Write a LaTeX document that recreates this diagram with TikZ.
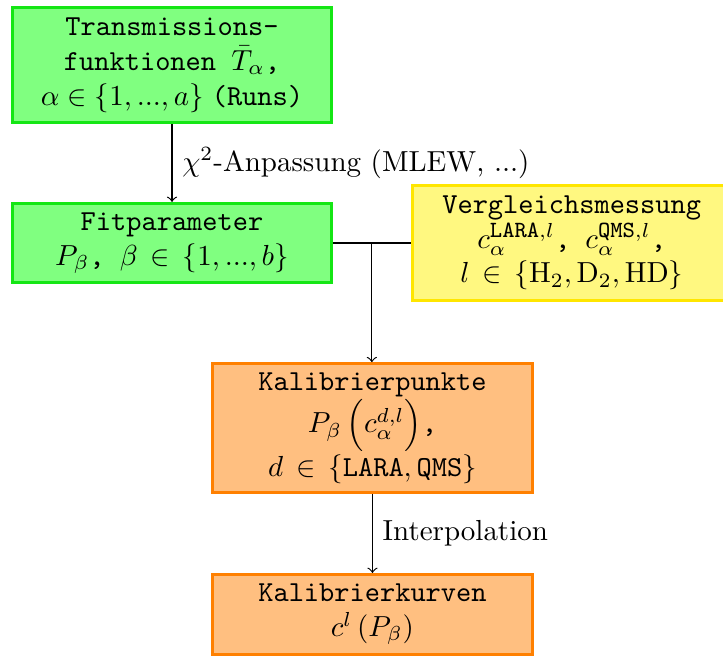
\documentclass[tikz,border=0pt]{standalone}
\usepackage{amsmath}
\definecolor{boxgreen}{RGB}{20,230,20}
\definecolor{boxyellow}{RGB}{255,230,0}
\tikzset{
	block/.style={line width=1pt, minimum width=3.87cm, align=center, font=\ttfamily, inner sep=2pt},
	fitbox/.style={block, draw=boxgreen, fill=green!50},
	refbox/.style={block, draw=boxyellow, fill=yellow!50},
	calbox/.style={block, draw=orange, fill=orange!50},
}
\begin{document}
\begin{tikzpicture}
	\useasboundingbox (0, 0) rectangle (8.764, -7.952);
	
	% input data
	\node[fitbox, minimum height=1.4cm] (trans) at (2.085, -0.788)
		{Transmissions-\\funktionen $\bar{T}_\alpha$,\\$\alpha \in \{1,...,a\}\;$(Runs)};
	\node[fitbox, minimum height=0.96cm] (fit) at (2.085, -2.945)
		{Fitparameter\\$P_\beta$, $\beta\,\in\,\{1,...,b\}$};
	\node[refbox, minimum height=1.4cm] (vergl) at (6.93, -2.945)
		{Vergleichsmessung\\$c_\alpha^{\mbox{\footnotesize\ttfamily LARA},l}$, $c_\alpha^{\mbox{\footnotesize\ttfamily QMS},l}$,\\$l\,\in\,\{\mathrm{H}_2,\mathrm{D}_2,\mathrm{HD}\}$};
	
	% calibration
	\node[calbox, minimum height=1.56cm] (kpunkte) at (4.515, -5.188)
		{Kalibrierpunkte\\$P_\beta\,\Bigl(c_\alpha^{d,l}\Bigr)$,\\$d\,\in\,\{\texttt{LARA},\texttt{QMS}\}$};
	\node[calbox, minimum height=0.97cm] (kkurven) at (4.515, -7.448)
		{Kalibrierkurven\\$c^l\left(P_\beta\right)$};
	
	\draw[->] (trans) -- node[right] {$\chi^2$-Anpassung (MLEW, ...)} (fit);
	\draw (fit) -- coordinate[midway] (join) (vergl);
	\draw[->] (join) -- (join |- kpunkte.north);
	\draw[->] (kpunkte) -- node[right] {Interpolation} (kkurven);
\end{tikzpicture}
\end{document}
